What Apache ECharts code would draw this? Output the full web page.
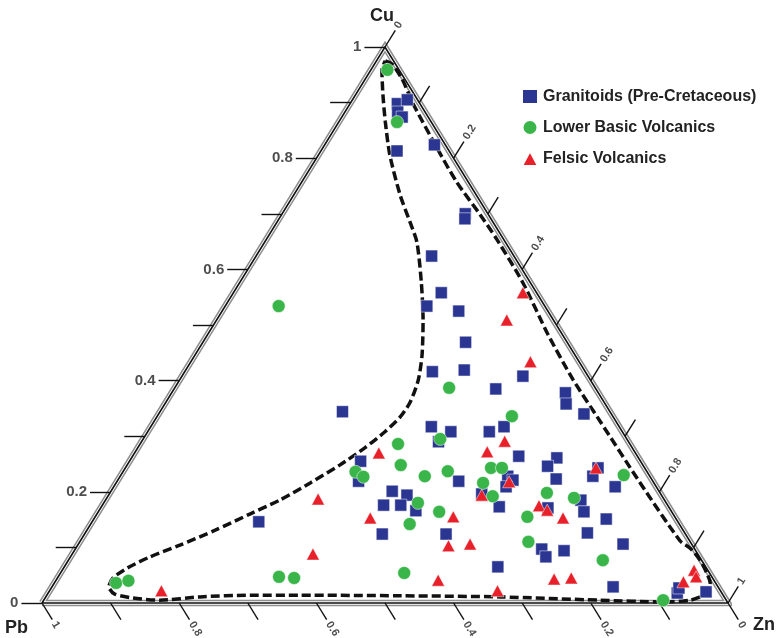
<!DOCTYPE html>
<html>
<head>
<meta charset="utf-8">
<script src="https://cdn.jsdelivr.net/npm/echarts@6/dist/echarts.min.js"></script>
<style>
  html, body { margin: 0; padding: 0; background: #ffffff; }
  #chart { width: 779px; height: 638px; }
</style>
</head>
<body>
<div id="chart"></div>
<script>
// Compositions are stored as [Cu, Zn] fractions; Pb = 1 - Cu - Zn.
const granitoids = [
  [0.385, 0.469], [0.378, 0.574], [0.358, 0.585], [0.340, 0.620], [0.317, 0.409],
  [0.308, 0.442], [0.290, 0.433], [0.308, 0.498], [0.317, 0.515], [0.264, 0.563],
  [0.261, 0.620], [0.246, 0.614], [0.255, 0.337], [0.219, 0.352], [0.219, 0.498],
  [0.228, 0.565], [0.221, 0.576], [0.209, 0.572], [0.243, 0.689], [0.228, 0.689],
  [0.223, 0.638], [0.209, 0.731], [0.201, 0.410], [0.194, 0.435], [0.176, 0.410],
  [0.176, 0.435], [0.166, 0.462], [0.196, 0.543], [0.173, 0.580], [0.171, 0.652],
  [0.185, 0.693], [0.164, 0.708], [0.151, 0.747], [0.124, 0.434], [0.124, 0.527],
  [0.126, 0.732], [0.106, 0.794], [0.097, 0.680], [0.083, 0.693], [0.094, 0.714],
  [0.065, 0.632], [0.029, 0.818], [0.344, 0.266],
  [0.898, 0.069], [0.905, 0.080], [0.883, 0.077], [0.874, 0.088], [0.813, 0.111],
  [0.824, 0.160], [0.700, 0.267], [0.691, 0.271], [0.624, 0.256], [0.558, 0.303],
  [0.534, 0.294], [0.525, 0.345], [0.469, 0.383], [0.416, 0.361], [0.419, 0.406],
  [0.408, 0.497], [0.146, 0.243], [0.018, 0.917], [0.027, 0.915], [0.020, 0.958]
];

const basicVolcanics = [
  [0.387, 0.400], [0.336, 0.517], [0.295, 0.433], [0.286, 0.376], [0.248, 0.399],
  [0.236, 0.339], [0.227, 0.355], [0.228, 0.444], [0.237, 0.473], [0.243, 0.533],
  [0.243, 0.549], [0.216, 0.535], [0.192, 0.561], [0.198, 0.637], [0.189, 0.681],
  [0.230, 0.733], [0.180, 0.458], [0.164, 0.497], [0.142, 0.465], [0.155, 0.630],
  [0.110, 0.654], [0.077, 0.779], [0.054, 0.501], [0.959, 0.024], [0.865, 0.085],
  [0.534, 0.078], [0.047, 0.322], [0.045, 0.345], [0.036, 0.090], [0.040, 0.106],
  [0.005, 0.903]
];

const felsicVolcanics = [
  [0.270, 0.356], [0.272, 0.513], [0.291, 0.529], [0.218, 0.572], [0.194, 0.544],
  [0.243, 0.686], [0.175, 0.637], [0.167, 0.653], [0.153, 0.683], [0.153, 0.402],
  [0.155, 0.522], [0.103, 0.541], [0.106, 0.571], [0.041, 0.557], [0.022, 0.653],
  [0.043, 0.725], [0.045, 0.749], [0.558, 0.422], [0.509, 0.423], [0.434, 0.495],
  [0.187, 0.309], [0.088, 0.351], [0.022, 0.163], [0.038, 0.916], [0.059, 0.921],
  [0.047, 0.930]
];

// Outline of the compositional field (dashed boundary)
const envelope = [
  [0.975, 0.013], [0.969, 0.026], [0.941, 0.055], [0.899, 0.091], [0.818, 0.167],
  [0.757, 0.226], [0.698, 0.290], [0.653, 0.337], [0.576, 0.413], [0.482, 0.497],
  [0.401, 0.574], [0.326, 0.651], [0.216, 0.764], [0.112, 0.874], [0.099, 0.895],
  [0.077, 0.921], [0.054, 0.942], [0.036, 0.956], [0.018, 0.960], [0.011, 0.954],
  [0.005, 0.942], [0.002, 0.904], [0.005, 0.811], [0.011, 0.662], [0.013, 0.516],
  [0.014, 0.369], [0.014, 0.296], [0.011, 0.225], [0.005, 0.169], [0.009, 0.128],
  [0.016, 0.098], [0.029, 0.083], [0.045, 0.081], [0.063, 0.093], [0.083, 0.116],
  [0.104, 0.149], [0.131, 0.187], [0.160, 0.223], [0.185, 0.254], [0.216, 0.283],
  [0.248, 0.310], [0.279, 0.331], [0.308, 0.346], [0.335, 0.355], [0.362, 0.356],
  [0.401, 0.348], [0.446, 0.331], [0.509, 0.301], [0.576, 0.265], [0.649, 0.222],
  [0.685, 0.194], [0.734, 0.155], [0.806, 0.104], [0.865, 0.068], [0.914, 0.040],
  [0.959, 0.016]
];

const tickValues = [0, 0.1, 0.2, 0.3, 0.4, 0.5, 0.6, 0.7, 0.8, 0.9, 1];
const labelValues = [0, 0.2, 0.4, 0.6, 0.8, 1];
const labelTexts = ['0', '0.2', '0.4', '0.6', '0.8', '1'];

const seriesNames = ['Granitoids (Pre-Cretaceous)', 'Lower Basic Volcanics', 'Felsic Volcanics'];
const seriesColors = ['#2b3592', '#3ab54a', '#e8202a'];

// Ternary (Cu, Zn) -> cartesian plane: Pb at origin, Zn at (1,0), Cu at (0.5,1)
function toXY(cu, zn) { return [zn + cu / 2, cu]; }

const GRID = { left: 42, top: 47, width: 686, height: 556 };
const T = 0.03;     // tick length (composition units)
const G = 0.005;    // gap between tick end and rotated label
// slope of the side edges on screen, used to rotate edge labels
const EDGE_ANGLE = Math.atan2(GRID.height, GRID.width / 2) * 180 / Math.PI;

const FONT = '"Liberation Sans", Arial, Helvetica, sans-serif';
const INK = '#222222';

const frame = [toXY(0, 0), toXY(1, 0), toXY(0, 1), toXY(0, 0)];

const tickLines = [];
tickValues.forEach(function (v) {
  // Cu: horizontal ticks on the Pb–Cu edge
  tickLines.push({ coords: [toXY(v, 0), toXY(v, -T)] });
  // Zn: ticks on the Cu–Zn edge, parallel to the Pb–Cu edge
  tickLines.push({ coords: [toXY(1 - v, v), toXY(1 - v + T, v)] });
  // Pb: ticks on the Pb–Zn edge, parallel to the Cu–Zn edge
  tickLines.push({ coords: [toXY(0, 1 - v), toXY(-T, 1 - v + T)] });
});

const cuLabels = labelValues.map(function (v, i) {
  return { name: labelTexts[i], value: toXY(v, -T) };
});
const znLabels = labelValues.map(function (v, i) {
  return { name: labelTexts[i], value: toXY(1 - v + T + G, v) };
});
const pbLabels = labelValues.map(function (v, i) {
  return { name: labelTexts[i], value: toXY(-(T + G), 1 - v + T + G) };
});

function points(list) {
  return list.map(function (d) {
    const xy = toXY(d[0], d[1]);
    return { value: [xy[0], xy[1], d[0], 1 - d[0] - d[1], d[1]] };
  });
}

const frameLine = function (width, color, z) {
  return {
    type: 'line', data: frame, symbol: 'none', silent: true, clip: false, z: z,
    lineStyle: { width: width, color: color, join: 'miter', opacity: 1 }, animation: false
  };
};

const labelSeries = function (data, label) {
  return {
    type: 'scatter', data: data, symbolSize: 0, silent: true, clip: false, z: 5,
    label: Object.assign({
      show: true, formatter: '{b}', color: INK, fontFamily: FONT, fontWeight: 'bold'
    }, label)
  };
};

const chart = echarts.init(document.getElementById('chart'), null, { renderer: 'canvas' });

chart.setOption({
  animation: false,
  backgroundColor: '#ffffff',
  grid: { left: GRID.left, top: GRID.top, width: GRID.width, height: GRID.height },
  xAxis: { type: 'value', min: 0, max: 1, show: false },
  yAxis: { type: 'value', min: 0, max: 1, show: false },
  legend: {
    orient: 'vertical', left: 516, top: 83,
    itemWidth: 16, itemHeight: 15, itemGap: 14,
    textStyle: { fontFamily: FONT, fontWeight: 'bold', fontSize: 16, color: INK, lineHeight: 16 },
    data: [
      { name: seriesNames[0], icon: 'rect' },
      { name: seriesNames[1], icon: 'circle' },
      { name: seriesNames[2], icon: 'triangle' }
    ]
  },
  graphic: [
    { type: 'text', left: 370, top: 7, style: { text: 'Cu', font: 'bold 18px ' + FONT, fill: INK } },
    { type: 'text', left: 5, top: 619, style: { text: 'Pb', font: 'bold 18px ' + FONT, fill: INK } },
    { type: 'text', left: 753, top: 616, style: { text: 'Zn', font: 'bold 18px ' + FONT, fill: INK } }
  ],
  series: [
    frameLine(6.5, '#8e8e8e', 1),
    frameLine(3.4, '#ffffff', 1),
    frameLine(1.6, '#111111', 2),
    {
      type: 'lines', coordinateSystem: 'cartesian2d', data: tickLines, silent: true,
      clip: false, z: 2, lineStyle: { color: '#111111', width: 1.4, opacity: 1 }
    },
    labelSeries(cuLabels, { position: 'left', distance: 3, fontSize: 15 }),
    labelSeries(znLabels, { position: 'inside', align: 'left', verticalAlign: 'middle', rotate: EDGE_ANGLE, fontSize: 11 }),
    labelSeries(pbLabels, { position: 'inside', align: 'left', verticalAlign: 'middle', rotate: -EDGE_ANGLE, fontSize: 11 }),
    {
      type: 'line', data: envelope.concat([envelope[0]]).map(function (d) { return toXY(d[0], d[1]); }),
      symbol: 'none', smooth: 0.25, silent: true, clip: false, z: 3,
      lineStyle: { color: '#111111', width: 3.5, type: [9, 4], opacity: 1 }
    },
    {
      name: seriesNames[0], type: 'scatter', data: points(granitoids), symbol: 'rect',
      symbolSize: 12, z: 4, clip: false,
      itemStyle: { color: seriesColors[0], opacity: 1, borderColor: '#ffffff', borderWidth: 0.5 }
    },
    {
      name: seriesNames[1], type: 'scatter', data: points(basicVolcanics), symbol: 'circle',
      symbolSize: 13, z: 4, clip: false,
      itemStyle: { color: seriesColors[1], opacity: 1, borderColor: '#ffffff', borderWidth: 0.5 }
    },
    {
      name: seriesNames[2], type: 'scatter', data: points(felsicVolcanics), symbol: 'triangle',
      symbolSize: [13, 12], z: 4, clip: false,
      itemStyle: { color: seriesColors[2], opacity: 1, borderColor: '#ffffff', borderWidth: 0.5 }
    }
  ]
});
</script>
</body>
</html>
